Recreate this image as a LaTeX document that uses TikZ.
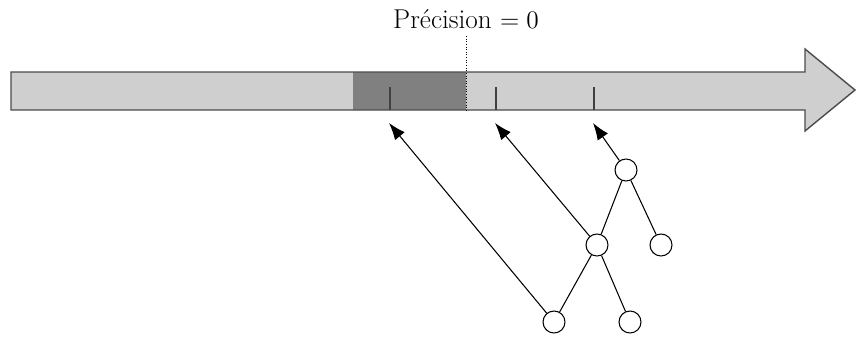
\documentclass[tikz,border=0pt]{standalone}
\usetikzlibrary{arrows.meta}

\tikzset{
  noeud/.style={draw, circle, line width=0.6pt, minimum size=0.44cm, inner sep=0pt},
  lien/.style={line width=0.6pt},
  fleche/.style={line width=0.6pt, -{Latex[length=3.4mm, width=2.5mm]}}
}

\begin{document}
\begin{tikzpicture}[x=0.02cm, y=-0.02cm]
  \useasboundingbox (0,0) rectangle (857,338);

  % Barre
  \fill[gray!38] (11,72) -- (805,72) -- (805,49) -- (855,90) -- (805,131) -- (805,110) -- (11,110) -- cycle;
  \fill[black!50] (353,72) rectangle (466,110);
  \draw[black!70, line width=0.8pt] (11,72) -- (805,72) -- (805,49) -- (855,90) -- (805,131) -- (805,110) -- (11,110) -- cycle;

  % Graduations
  \foreach \x/\n in {390/a, 496/b, 594/c} {
    \draw[black!75, line width=0.8pt] (\x,87) -- (\x,110);
    \coordinate (\n) at (\x-1,123);
  }

  % Seuil
  \draw[densely dotted, line width=0.5pt] (466,36) -- (466,110);
  \node (seuil) at (466,19) {\fontsize{15.5}{18}\selectfont Pr\'ecision $=0$};

  % Arbre
  \node[noeud] (r) at (626,170) {};
  \node[noeud] (m) at (597,245) {};
  \node[noeud] (d) at (661,245) {};
  \node[noeud] (g) at (554,322) {};
  \node[noeud] (h) at (630,322) {};
  \draw[lien] (r) -- (m);
  \draw[lien] (r) -- (d);
  \draw[lien] (m) -- (g);
  \draw[lien] (m) -- (h);

  % Fleches
  \draw[fleche] (g) -- (a);
  \draw[fleche] (m) -- (b);
  \draw[fleche] (r) -- (c);
\end{tikzpicture}
\end{document}
